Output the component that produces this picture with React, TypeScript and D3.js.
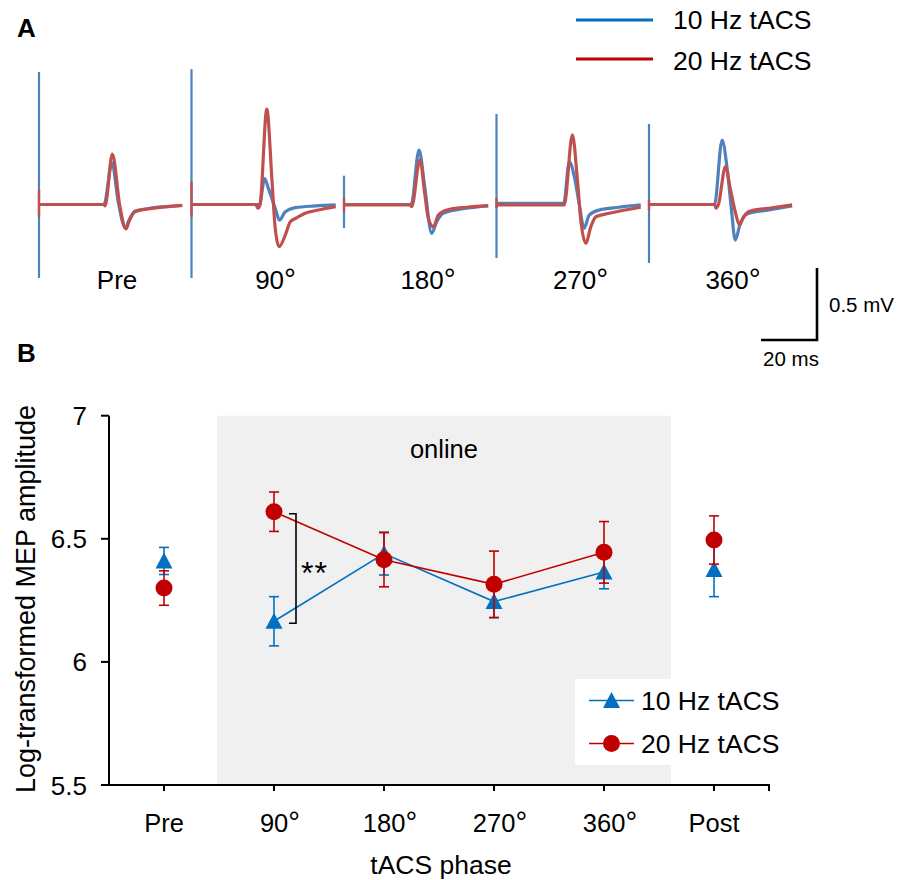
import React from "react";
import * as d3 from "d3";

// ---- panel B data ----
const phases = ["Pre", "90°", "180°", "270°", "360°", "Post"];
const mean10 = [6.41, 6.165, 6.44, 6.245, 6.365, 6.375];
const err10 = [0.055, 0.1, 0.087, 0.065, 0.068, 0.11];
const mean20 = [6.3, 6.61, 6.415, 6.315, 6.445, 6.495];
const err20 = [0.07, 0.08, 0.11, 0.135, 0.125, 0.098];
const yTicks = [5.5, 6, 6.5, 7];
// online block, in category-index units
const onlineSpan = [0.48, 4.61];

// ---- panel A data: MEP traces, [ms, mV] ----
const traceLabels = ["Pre", "90°", "180°", "270°", "360°"];
const artifact10 = [[0.92, -0.51], [0.94, -0.51], [0.2, -0.163], [0.628, -0.372], [0.559, -0.406]];
const artifact20 = [[0.1, -0.087], [0.158, -0.085], [0.045, -0.05], [0.045, -0.025], [0.03, -0.04]];
const mep10 = [
  [[0, 0], [23.2, 0], [26.1, 0.29], [28.2, 0.03], [30.9, -0.163], [32.1, -0.11], [34.3, -0.045], [39.1, -0.028], [43.9, -0.017], [51.1, -0.007]],
  [[0, 0], [24.3, 0], [26.1, 0.18], [27.5, 0.11], [29.9, -0.026], [31.4, -0.108], [33.5, -0.05], [37, -0.022], [44.2, -0.01], [51.5, -0.003]],
  [[0, 0], [24.0, 0], [26.8, 0.378], [28.9, 0.113], [31.3, -0.2], [33.1, -0.12], [35.5, -0.061], [43.8, -0.026], [51.5, -0.01]],
  [[0, 0.008], [24.0, 0.008], [26, 0.297], [27.8, 0.193], [29.5, 0.008], [31.3, -0.165], [33.1, -0.073], [36.7, -0.038], [43.8, -0.019], [51.5, -0.003]],
  [[0, 0], [23.4, 0], [26.1, 0.448], [27.9, 0.251], [29.4, -0.026], [30.8, -0.247], [32.6, -0.131], [35.6, -0.061], [42.8, -0.038], [51.1, -0.01]],
];
const mep20 = [
  [[0, 0], [23.2, 0], [23.6, -0.01], [26.2, 0.35], [28.9, -0.015], [31.1, -0.17], [32.1, -0.12], [34.3, -0.05], [39, -0.031], [43.8, -0.019], [51.2, -0.006]],
  [[0, 0], [23.0, 0], [23.7, -0.026], [24.5, 0], [26.9, 0.663], [28.7, 0.18], [29.9, -0.165], [31.3, -0.293], [33.5, -0.212], [35.3, -0.12], [37.6, -0.092], [40.6, -0.061], [45.4, -0.038], [51.5, -0.015]],
  [[0, -0.003], [23.5, -0.003], [24.2, -0.015], [27.1, 0.31], [28.9, 0.066], [30.1, -0.096], [31.9, -0.154], [33.7, -0.073], [36.7, -0.038], [43.8, -0.019], [51.5, -0.008]],
  [[0, -0.003], [24.2, -0.003], [27.1, 0.483], [28.9, 0.17], [30.1, -0.108], [31.9, -0.269], [33.7, -0.154], [35.5, -0.085], [40.3, -0.061], [51.5, -0.019]],
  [[0, 0], [23.5, 0], [23.9, -0.026], [24.8, 0], [27.3, 0.263], [29, 0.113], [30.8, -0.05], [32.3, -0.142], [33.8, -0.085], [36.2, -0.045], [42.8, -0.026], [51.1, -0.003]],
];

const FONT = "'Liberation Sans', Arial, Helvetica, sans-serif";
const BLUE = "#0070C0";
const RED = "#C00000";
const TRACE_BLUE = "#4F81BD";
const TRACE_RED = "#C0504D";

// degree labels sit a little to the right in the original (bigger ° glyph)
const degShift = (s: string) => (s.includes("°") ? 6 : 0);
const Label = ({ s }: { s: string }) =>
  s.includes("°") ? (
    <>
      {s.replace("°", "")}
      <tspan fontSize="1.15em">°</tspan>
    </>
  ) : (
    <>{s}</>
  );

export default function App() {
  // ---- panel A scales ----
  const segX = d3.scalePoint().domain(traceLabels).range([39, 649]);
  const tX = d3.scaleLinear().domain([0, 51.5]).range([0, 144.2]);
  const vY = d3.scaleLinear().domain([0, 0.5]).range([204.5, 132.5]);

  const traceLine = (i: number) =>
    d3
      .line<number[]>()
      .x((d) => segX(traceLabels[i])! + tX(d[0]))
      .y((d) => vY(d[1]))
      .curve(d3.curveMonotoneX);

  // scale bar
  const barX = 817;
  const barY = 340;
  const barH = vY(0) - vY(0.5);
  const barW = tX(20) - tX(0);

  // ---- panel B scales ----
  const xB = d3.scaleLinear().domain([-0.5, 5.5]).range([109, 769]);
  const yB = d3.scaleLinear().domain([5.5, 7]).range([785, 415.7]);

  const online = [1, 2, 3, 4];
  const seriesLine = (means: number[]) =>
    d3
      .line<number>()
      .x((i) => xB(i))
      .y((i) => yB(means[i]))(online);

  const tri = (x: number, y: number) => `M${x},${y - 8.5}L${x + 8.5},${y + 7.5}L${x - 8.5},${y + 7.5}Z`;

  const errorBars = (means: number[], errs: number[], color: string) =>
    means.map((m, i) => {
      const x = xB(i);
      const y1 = yB(m + errs[i]);
      const y2 = yB(m - errs[i]);
      return (
        <g key={i} stroke={color} strokeWidth={1.6}>
          <line x1={x} x2={x} y1={y1} y2={y2} />
          <line x1={x - 5} x2={x + 5} y1={y1} y2={y1} />
          <line x1={x - 5} x2={x + 5} y1={y2} y2={y2} />
        </g>
      );
    });

  const bracketX = xB(1) + 22;
  const bTop = yB(mean20[1]) + 2;
  const bBot = yB(mean10[1]) + 2;

  return (
    <svg
      width={901}
      height={880}
      style={{ position: "absolute", left: 0, top: 0, background: "#fff" }}
      fontFamily={FONT}
    >
      {/* ================= Panel A ================= */}
      <text x={17} y={37} fontSize={26} fontWeight="bold">A</text>

      {/* legend */}
      <line x1={576} x2={653} y1={20} y2={20} stroke={BLUE} strokeWidth={3} />
      <line x1={576} x2={653} y1={59} y2={59} stroke={RED} strokeWidth={3} />
      <text x={673} y={28.5} fontSize={26.5}>10 Hz tACS</text>
      <text x={673} y={69.5} fontSize={26.5}>20 Hz tACS</text>

      {traceLabels.map((lab, i) => {
        const x0 = segX(lab)!;
        return (
          <g key={lab}>
            <line x1={x0} x2={x0} y1={vY(artifact10[i][0])} y2={vY(artifact10[i][1])} stroke={TRACE_BLUE} strokeWidth={2.2} />
            <path d={traceLine(i)(mep10[i]) || ""} fill="none" stroke={TRACE_BLUE} strokeWidth={3.2} strokeLinejoin="round" />
            <line x1={x0} x2={x0} y1={vY(artifact20[i][0])} y2={vY(artifact20[i][1])} stroke={TRACE_RED} strokeWidth={2.4} />
            <path d={traceLine(i)(mep20[i]) || ""} fill="none" stroke={TRACE_RED} strokeWidth={3.2} strokeLinejoin="round" />
            <text x={x0 + tX.range()[1] / 2 + 6 + degShift(lab)} y={289} fontSize={26} textAnchor="middle">
              <Label s={lab} />
            </text>
          </g>
        );
      })}

      {/* scale bar */}
      <path d={`M${barX - barW},${barY}H${barX}V${barY - barH}`} fill="none" stroke="#000" strokeWidth={2.6} />
      <text x={829} y={312} fontSize={20.5}>0.5 mV</text>
      <text x={791} y={366} fontSize={20.5} textAnchor="middle">20 ms</text>

      {/* ================= Panel B ================= */}
      <text x={17} y={362} fontSize={26} fontWeight="bold">B</text>

      <rect
        x={xB(onlineSpan[0])}
        y={yB(7)}
        width={xB(onlineSpan[1]) - xB(onlineSpan[0])}
        height={yB(5.5) - yB(7)}
        fill="#F0F0F0"
      />
      <text x={(xB(onlineSpan[0]) + xB(onlineSpan[1])) / 2} y={458} fontSize={25.5} textAnchor="middle">
        online
      </text>

      {/* legend box */}
      <rect x={575} y={679} width={215} height={86} fill="#fff" />

      {/* axes */}
      <line x1={xB(-0.5)} x2={xB(-0.5)} y1={yB(7)} y2={yB(5.5)} stroke="#000" strokeWidth={2} />
      <line x1={xB(-0.5) - 1} x2={xB(5.5) + 1} y1={yB(5.5)} y2={yB(5.5)} stroke="#000" strokeWidth={2} />
      {yTicks.map((t) => (
        <g key={t}>
          <line x1={xB(-0.5) - 8} x2={xB(-0.5)} y1={yB(t)} y2={yB(t)} stroke="#000" strokeWidth={2} />
          <text x={87} y={yB(t) + 9.5} fontSize={26} textAnchor="end">
            {String(t)}
          </text>
        </g>
      ))}
      {phases.map((p, i) => (
        <g key={p}>
          <line x1={xB(i)} x2={xB(i)} y1={yB(5.5)} y2={yB(5.5) + 6} stroke="#000" strokeWidth={2} />
          <text x={xB(i) + degShift(p)} y={832} fontSize={25.5} textAnchor="middle">
            <Label s={p} />
          </text>
        </g>
      ))}
      <line x1={xB(5.5)} x2={xB(5.5)} y1={yB(5.5)} y2={yB(5.5) + 6} stroke="#000" strokeWidth={2} />

      <text x={441} y={874} fontSize={26.5} textAnchor="middle">tACS phase</text>
      <text transform="translate(35,599) rotate(-90)" fontSize={27} textAnchor="middle">
        Log-transformed MEP amplitude
      </text>

      {/* 10 Hz series */}
      <path d={seriesLine(mean10) || ""} fill="none" stroke={BLUE} strokeWidth={1.6} />
      {errorBars(mean10, err10, BLUE)}
      {mean10.map((m, i) => (
        <path key={i} d={tri(xB(i), yB(m))} fill={BLUE} />
      ))}

      {/* 20 Hz series */}
      <path d={seriesLine(mean20) || ""} fill="none" stroke={RED} strokeWidth={1.6} />
      {errorBars(mean20, err20, RED)}
      {mean20.map((m, i) => (
        <circle key={i} cx={xB(i)} cy={yB(m)} r={8.5} fill={RED} />
      ))}

      {/* significance bracket */}
      <path d={`M${bracketX - 7},${bTop}H${bracketX}V${bBot}H${bracketX - 7}`} fill="none" stroke="#000" strokeWidth={1.6} />
      <text x={bracketX + 5} y={584} fontSize={32} letterSpacing={1}>**</text>

      {/* legend B */}
      <line x1={589} x2={634} y1={700.5} y2={700.5} stroke={BLUE} strokeWidth={1.6} />
      <path d={tri(611.5, 700.5)} fill={BLUE} />
      <line x1={589} x2={634} y1={743.5} y2={743.5} stroke={RED} strokeWidth={1.6} />
      <circle cx={611.5} cy={743.5} r={8.5} fill={RED} />
      <text x={641} y={710} fontSize={26.5}>10 Hz tACS</text>
      <text x={641} y={752.5} fontSize={26.5}>20 Hz tACS</text>
    </svg>
  );
}
